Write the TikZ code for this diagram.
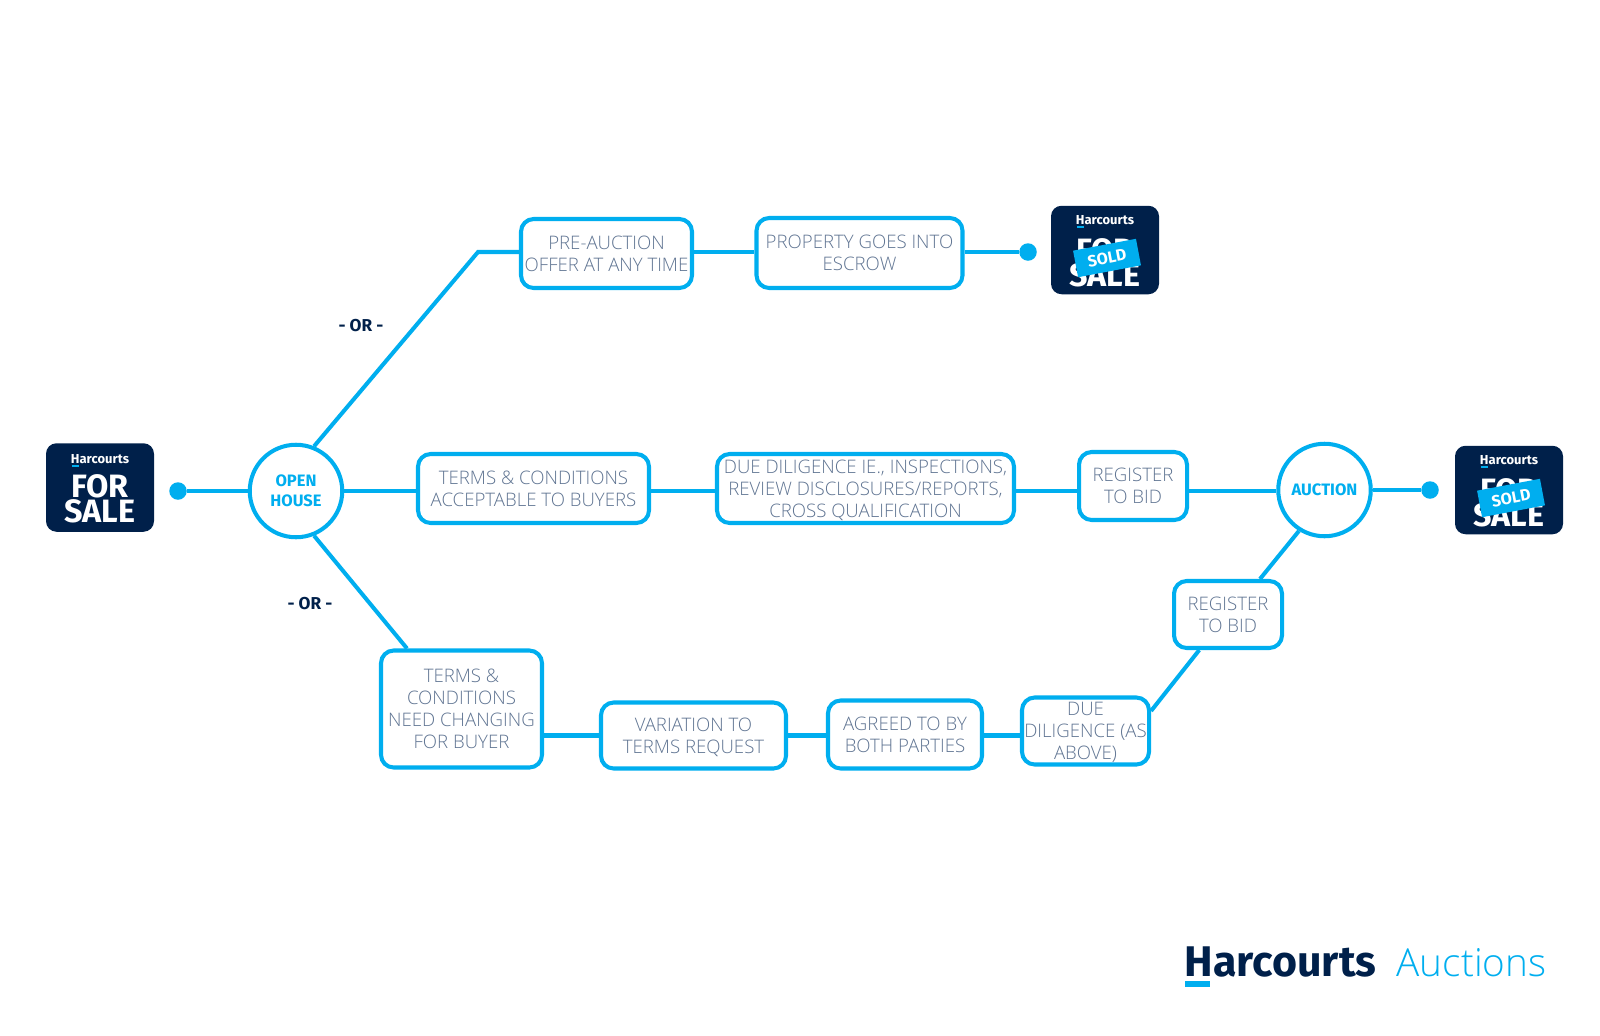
\documentclass[tikz,border=0pt]{standalone}
\usepackage{fontspec}
\setmainfont{Open Sans Light}
\newfontfamily\brandfont{Fira Sans}
\usetikzlibrary{positioning,calc}
\definecolor{hblue}{HTML}{00AEEF}
\definecolor{hnavy}{HTML}{00204A}
\definecolor{hslate}{HTML}{5F7492}
\tikzset{
  stagebox/.style={draw=hblue, fill=white, rounded corners=3.6pt, line width=1.15pt, align=center, inner sep=0pt, text depth=0pt, text=hslate, font=\fontsize{5.3}{6.25}\selectfont},
  hub/.style={circle, draw=hblue, fill=white, line width=1.15pt, minimum size=9.25mm, inner sep=0pt, align=center, text=hblue, font=\brandfont\bfseries\fontsize{4.7}{5.6}\selectfont},
  link/.style={draw=hblue, line width=1.15pt},
  dot/.style={circle, fill=hblue, minimum size=1.75mm, inner sep=0pt},
  sign/.style={fill=hnavy, rounded corners=3pt, minimum width=10.8mm, minimum height=8.85mm, inner sep=0pt},
  signbrand/.style={text=white, inner sep=0pt, font=\brandfont\bfseries\fontsize{3.7}{4}\selectfont},
  signtext/.style={text=white, inner sep=0pt, align=center, font=\brandfont\bfseries\fontsize{9.2}{7.2}\selectfont},
  soldtag/.style={fill=hblue, rotate=10.7, minimum width=6.4mm, minimum height=2.7mm, inner sep=0pt, text=white, font=\brandfont\bfseries\fontsize{4.6}{5}\selectfont},
  ortag/.style={text=hnavy, inner sep=0pt, font=\brandfont\bfseries\fontsize{4.9}{6}\selectfont}
}
\begin{document}
\begin{tikzpicture}
\useasboundingbox (0,0) rectangle (16,10.35);
% ---- for sale sign ----
\node[sign] (forsale) at (1,5.475) {};
\node[signbrand] (forsalebrand) at (1,5.76) {Harcourts};
\node[signtext] (forsaletext) at (1,5.365) {FOR\\SALE};
\fill[hblue] (0.715,5.68) rectangle (0.79,5.70);
% ---- sold signs ----
\foreach \nm/\x/\y in {soldtop/11.05/7.85, soldend/15.09/5.45}{
  \node[sign] (\nm) at (\x,\y) {};
  \node[signbrand] (\nm brand) at ($(\nm)+(0,0.30)$) {Harcourts};
  \node[signtext] (\nm text) at ($(\nm)+(0,-0.13)$) {FOR\\SALE};
  \node[soldtag] (\nm tag) at ($(\nm)+(0.02,-0.08)$) {SOLD};
  \fill[hblue] ($(\nm)+(-0.285,0.22)$) rectangle ($(\nm)+(-0.21,0.24)$);
}
% ---- hubs and stages ----
\node[hub] (open) at (2.96,5.44) {OPEN\\HOUSE};
\node[hub] (auction) at (13.245,5.45) {AUCTION};
\node[stagebox, minimum width=17.1mm, minimum height=6.9mm] (preauction) at (6.065,7.815) {PRE-AUCTION\\OFFER AT ANY TIME};
\node[stagebox, minimum width=20.6mm, minimum height=7mm] (escrow) at (8.595,7.82) {PROPERTY GOES INTO\\ESCROW};
\node[stagebox, minimum width=23.1mm, minimum height=6.9mm] (accept) at (5.335,5.465) {TERMS \& CONDITIONS\\ACCEPTABLE TO BUYERS};
\node[stagebox, minimum width=29.7mm, minimum height=6.9mm] (diligence) at (8.655,5.465) {DUE DILIGENCE IE., INSPECTIONS,\\REVIEW DISCLOSURES/REPORTS,\\CROSS QUALIFICATION};
\node[stagebox, minimum width=10.8mm, minimum height=6.8mm] (registerone) at (11.33,5.49) {REGISTER\\TO BID};
\node[stagebox, minimum width=10.8mm, minimum height=6.7mm] (registertwo) at (12.28,4.205) {REGISTER\\TO BID};
\node[stagebox, minimum width=16.1mm, minimum height=11.7mm] (change) at (4.615,3.26) {TERMS \&\\CONDITIONS\\NEED CHANGING\\FOR BUYER};
\node[stagebox, minimum width=18.5mm, minimum height=6.6mm] (variation) at (6.935,2.995) {VARIATION TO\\TERMS REQUEST};
\node[stagebox, minimum width=15.4mm, minimum height=6.8mm] (agreed) at (9.05,3.005) {AGREED TO BY\\BOTH PARTIES};
\node[stagebox, minimum width=12.7mm, minimum height=6.7mm] (dueabove) at (10.855,3.04) {DUE\\DILIGENCE (AS\\ABOVE)};
\node[dot] (startdot) at (1.78,5.44) {};
\node[dot] (topdot) at (10.28,7.83) {};
\node[dot] (enddot) at (14.3,5.45) {};
\coordinate (bendtop) at (4.78,7.83);
% ---- connectors ----
\draw[link] (startdot) -- (open.west);
\draw[link] (open.68) -- (bendtop) -- (preauction.west |- bendtop);
\draw[link] (preauction.east |- bendtop) -- (escrow.west |- bendtop);
\draw[link] (escrow.east |- topdot) -- (topdot);
\draw[link] (open.east) -- (open.east -| accept.west);
\draw[link] (open.east -| accept.east) -- (open.east -| diligence.west);
\draw[link] (open.east -| diligence.east) -- (open.east -| registerone.west);
\draw[link] (open.east -| registerone.east) -- (open.east -| auction.west);
\draw[link] (auction.east) -- (enddot);
\draw[link] (open.-68) -- (change.132);
\draw[link] (change.east |- variation) -- (variation.west);
\draw[link] (variation.east) -- (variation.east -| agreed.west);
\draw[link] (variation.east -| agreed.east) -- (variation.east -| dueabove.west);
\draw[link] (dueabove.17.6) -- (registertwo.231);
\draw[link] (registertwo.48) -- (auction.238.7);
% ---- or labels ----
\node[ortag] (ortop) at (3.61,7.09) {- OR -};
\node[ortag] (orbottom) at (3.1,4.31) {- OR -};
% ---- logo ----
\node[anchor=base west, inner sep=0pt, text=hnavy, font=\brandfont\bfseries\fontsize{12.2}{13}\selectfont] (brand) at (11.84,0.59) {Harcourts};
\node[anchor=base west, inner sep=0pt, text=hblue, font=\fontsize{11}{13}\selectfont] (division) at (13.96,0.59) {Auctions};
\fill[hblue] (11.85,0.48) rectangle (12.10,0.54);
\end{tikzpicture}
\end{document}
